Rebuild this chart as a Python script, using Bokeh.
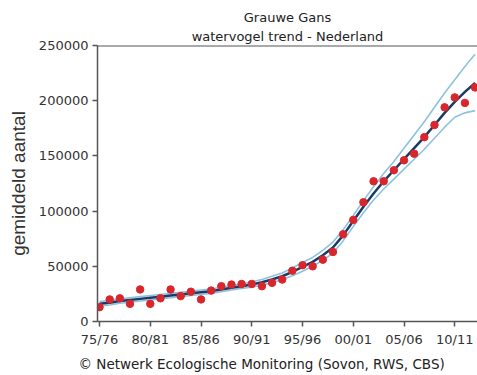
from bokeh.plotting import figure
from bokeh.models import Range1d, FixedTicker, NumeralTickFormatter, Span, Title
from bokeh.embed import file_html
from bokeh.resources import INLINE

seasons = ["75/76", "76/77", "77/78", "78/79", "79/80", "80/81", "81/82", "82/83",
           "83/84", "84/85", "85/86", "86/87", "87/88", "88/89", "89/90", "90/91",
           "91/92", "92/93", "93/94", "94/95", "95/96", "96/97", "97/98", "98/99",
           "99/00", "00/01", "01/02", "02/03", "03/04", "04/05", "05/06", "06/07",
           "07/08", "08/09", "09/10", "10/11", "11/12", "12/13"]

counts = [13000, 20000, 21000, 16000, 29000, 16000, 21000, 29000, 23000, 27000,
          20000, 28000, 32000, 33500, 34000, 34000, 32000, 35000, 38000, 46000,
          51000, 50000, 56000, 63000, 79000, 92000, 108000, 127000, 127000, 137000,
          146000, 152000, 167000, 178000, 194000, 203000, 198000, 212000]

trend = [16000, 17000, 18500, 19500, 20500, 21500, 22500, 23500, 24500, 25500,
         26500, 27500, 29000, 30500, 32000, 33500, 35500, 38000, 41000, 45000,
         49500, 54000, 60000, 67000, 78000, 91000, 104000, 116000, 127000, 137000,
         147000, 157000, 167000, 178000, 189000, 199000, 208000, 216000]

upper = [18000, 19000, 20500, 21500, 22500, 23500, 24500, 25500, 26500, 27500,
         28500, 29500, 31000, 32500, 34000, 36000, 38000, 41000, 44000, 48500,
         53500, 58000, 64500, 72000, 83000, 96000, 109500, 122000, 134000, 145000,
         157000, 169000, 181000, 194000, 207000, 219000, 231000, 242000]

lower = [14000, 15000, 16500, 17500, 18500, 19500, 20500, 21500, 22500, 23500,
         24500, 25500, 27000, 28500, 30000, 31000, 33000, 35000, 38000, 41500,
         45500, 50000, 55500, 62000, 73000, 86000, 98500, 110000, 120000, 129000,
         138000, 147000, 156000, 166000, 176000, 185000, 189000, 191000]

y_ticks = [0, 50000, 100000, 150000, 200000, 250000]
x_ticks = [0, 5, 10, 15, 20, 25, 30, 35]

title_lines = ["Grauwe Gans", "watervogel trend - Nederland"]
credit_text = "\u00a9 Netwerk Ecologische Monitoring (Sovon, RWS, CBS)"

idx = list(range(len(seasons)))

p = figure(width=477, height=375, output_backend="svg", toolbar_location=None,
           x_range=Range1d(-0.2, 37.24), y_range=Range1d(0, 250000),
           min_border_left=97, min_border_right=0, min_border_top=45, min_border_bottom=54)

p.title = None
for txt, so in ((title_lines[1], 3), (title_lines[0], 2)):
    p.add_layout(Title(text=txt, align="center", text_font="DejaVu Sans",
                       text_font_size="13px", text_font_style="normal",
                       text_color="#222222", standoff=so), "above")

p.outline_line_color = None
p.xgrid.grid_line_color = None
p.ygrid.grid_line_color = None

axis_col = "#555555"
for ax in (p.xaxis[0], p.yaxis[0]):
    ax.axis_line_color = axis_col
    ax.axis_line_width = 1.5
    ax.major_tick_line_color = axis_col
    ax.major_tick_line_width = 1.5
    ax.major_tick_out = 5
    ax.major_tick_in = 0
    ax.minor_tick_line_color = None
    ax.major_label_text_font = "DejaVu Sans"
    ax.major_label_text_font_size = "13px"
    ax.major_label_text_color = "#333333"
    ax.major_label_standoff = 4

p.xaxis.major_label_standoff = 5
p.xaxis.ticker = FixedTicker(ticks=x_ticks)
p.xaxis.major_label_overrides = {i: seasons[i] for i in x_ticks}

p.yaxis.ticker = FixedTicker(ticks=y_ticks)
p.yaxis.formatter = NumeralTickFormatter(format="0")
p.yaxis.axis_label = "gemiddeld aantal"
p.yaxis.axis_label_text_font = "Liberation Sans"
p.yaxis.axis_label_text_font_size = "19px"
p.yaxis.axis_label_text_font_style = "normal"
p.yaxis.axis_label_text_color = "#333333"
p.yaxis.axis_label_standoff = 7

p.add_layout(Span(location=250000, dimension="width", line_color=axis_col, line_width=2))

p.line(idx, upper, line_color="#8cc2e0", line_width=1.6)
p.line(idx, lower, line_color="#8cc2e0", line_width=1.6)
p.line(idx, trend, line_color="#1c3a66", line_width=2.5)
p.scatter(idx, counts, size=7.5, fill_color="#d9262c", line_color="#d9262c")

p.add_layout(Title(text=credit_text, align="left", offset=-19, standoff=8,
                   text_font="DejaVu Sans", text_font_size="13.5px", text_font_style="normal",
                   text_color="#222222"), "below")

open("out.html", "w").write(file_html(p, INLINE))
